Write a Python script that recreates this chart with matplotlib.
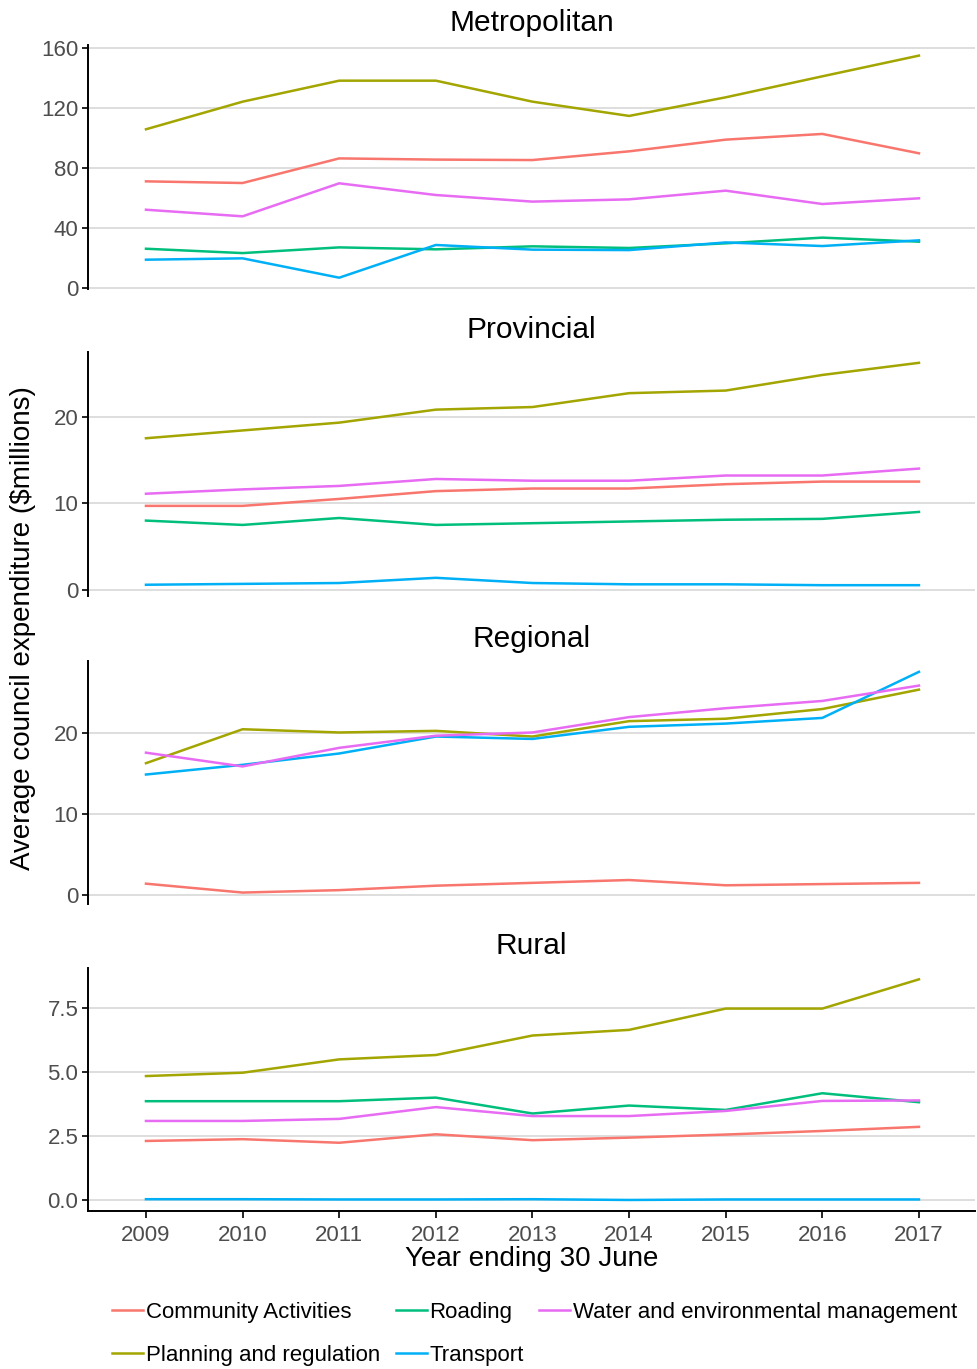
#!/usr/bin/env python3
"""
plot.py - average council expenditure by activity, one panel per council type.
"""

import matplotlib
matplotlib.use('Agg')
import matplotlib.pyplot as plt
from matplotlib.ticker import FormatStrFormatter

plt.rcParams['font.family'] = ['Liberation Sans', 'DejaVu Sans']

years = [2009, 2010, 2011, 2012, 2013, 2014, 2015, 2016, 2017]

categories = ['Community Activities', 'Planning and regulation', 'Roading',
              'Transport', 'Water and environmental management']
colors = {
    'Community Activities': '#F8766D',
    'Planning and regulation': '#A3A500',
    'Roading': '#00BF7D',
    'Transport': '#00B0F6',
    'Water and environmental management': '#E76BF3',
}

# Metropolitan ($m)
metro_community = [71.1, 70.0, 86.4, 85.6, 85.3, 91.1, 98.9, 102.7, 89.8]
metro_planning = [105.8, 124.2, 138.2, 138.2, 124.2, 114.7, 127.1, 141.1, 154.9]
metro_roading = [26.2, 23.3, 27.1, 25.8, 27.8, 26.7, 29.8, 33.6, 30.9]
metro_transport = [18.9, 19.8, 6.9, 28.7, 25.6, 25.3, 30.4, 28.0, 31.8]
metro_water = [52.2, 47.8, 69.8, 62.0, 57.6, 59.1, 64.9, 56.0, 59.8]

# Provincial ($m)
prov_community = [9.7, 9.7, 10.5, 11.4, 11.7, 11.7, 12.2, 12.5, 12.5]
prov_planning = [17.5, 18.4, 19.3, 20.8, 21.1, 22.7, 23.0, 24.8, 26.2]
prov_roading = [8.0, 7.5, 8.3, 7.5, 7.7, 7.9, 8.1, 8.2, 9.0]
prov_transport = [0.6, 0.7, 0.8, 1.4, 0.8, 0.65, 0.65, 0.55, 0.55]
prov_water = [11.1, 11.6, 12.0, 12.8, 12.6, 12.6, 13.2, 13.2, 14.0]

# Regional ($m) - no roading series
reg_community = [1.4, 0.3, 0.6, 1.15, 1.5, 1.85, 1.2, 1.35, 1.5]
reg_planning = [16.3, 20.5, 20.1, 20.3, 19.6, 21.5, 21.8, 23.0, 25.4]
reg_transport = [14.9, 16.1, 17.5, 19.6, 19.3, 20.8, 21.2, 21.9, 27.6]
reg_water = [17.6, 15.9, 18.2, 19.7, 20.1, 22.0, 23.1, 24.0, 25.9]

# Rural ($m)
rural_community = [2.31, 2.38, 2.24, 2.57, 2.34, 2.44, 2.56, 2.70, 2.86]
rural_planning = [4.84, 4.97, 5.49, 5.66, 6.42, 6.64, 7.47, 7.47, 8.61]
rural_roading = [3.86, 3.86, 3.86, 4.00, 3.38, 3.69, 3.52, 4.17, 3.82]
rural_transport = [0.04, 0.04, 0.03, 0.03, 0.04, 0.01, 0.03, 0.03, 0.03]
rural_water = [3.09, 3.09, 3.17, 3.63, 3.28, 3.28, 3.48, 3.87, 3.89]

panels = [
    ('Metropolitan', {
        'Community Activities': metro_community,
        'Planning and regulation': metro_planning,
        'Roading': metro_roading,
        'Transport': metro_transport,
        'Water and environmental management': metro_water,
    }, [0, 40, 80, 120, 160], '%d'),
    ('Provincial', {
        'Community Activities': prov_community,
        'Planning and regulation': prov_planning,
        'Roading': prov_roading,
        'Transport': prov_transport,
        'Water and environmental management': prov_water,
    }, [0, 10, 20], '%d'),
    ('Regional', {
        'Community Activities': reg_community,
        'Planning and regulation': reg_planning,
        'Transport': reg_transport,
        'Water and environmental management': reg_water,
    }, [0, 10, 20], '%d'),
    ('Rural', {
        'Community Activities': rural_community,
        'Planning and regulation': rural_planning,
        'Roading': rural_roading,
        'Transport': rural_transport,
        'Water and environmental management': rural_water,
    }, [0.0, 2.5, 5.0, 7.5], '%.1f'),
]

W, H = 977, 1369
fig = plt.figure(figsize=(W / 100, H / 100), dpi=100)

left, right = 88 / W, 975 / W
tops = [44.5, 351.7, 660.8, 968.3]
bottoms = [288.8, 596.3, 903.6, 1211.0]

handles = {}
for i, (title, series, yticks, fmt) in enumerate(panels):
    ax = fig.add_axes([left, 1 - bottoms[i] / H, right - left, (bottoms[i] - tops[i]) / H])
    for cat in categories:
        if cat not in series:
            continue
        ln, = ax.plot(years, series[cat], color=colors[cat], lw=1.8, zorder=3)
        handles[cat] = ln
    ax.set_xlim(2008.4, 2017.58)
    ax.margins(y=0.05)
    ax.set_yticks(yticks)
    ax.yaxis.set_major_formatter(FormatStrFormatter(fmt))
    ax.yaxis.grid(True, color='#D4D4D4', lw=1.1)
    ax.set_axisbelow(True)
    for s in ('top', 'right'):
        ax.spines[s].set_visible(False)
    ax.spines['left'].set_linewidth(1.4)
    ax.tick_params(axis='y', length=4, width=1.2, pad=3, labelsize=16, labelcolor='#4D4D4D')
    ax.set_title(title, fontsize=21.5, pad=10)
    if i < len(panels) - 1:
        ax.spines['bottom'].set_visible(False)
        ax.tick_params(axis='x', bottom=False, labelbottom=False)
    else:
        ax.spines['bottom'].set_linewidth(1.4)
        ax.set_xticks(years)
        ax.tick_params(axis='x', length=5, width=1.2, pad=5, labelsize=16, labelcolor='#4D4D4D')
        ax.set_xlabel('Year ending 30 June', fontsize=20, labelpad=0)

fig.text(0.024, 1 - 628 / H, 'Average council expenditure ($millions)',
         rotation=90, ha='center', va='center', fontsize=20)

# ncol=3 fills column-wise, so order handles to get the rows right
order = ['Community Activities', 'Planning and regulation', 'Roading',
         'Transport', 'Water and environmental management']
fig.legend([handles[c] for c in order], order, ncol=3, loc='upper left',
           bbox_to_anchor=(112 / W, 1 - 1302 / H), frameon=False, fontsize=16,
           handlelength=1.4, handletextpad=0.12, columnspacing=0.7,
           labelspacing=1.0, borderpad=0, borderaxespad=0)

fig.savefig('out.png', dpi=100)
